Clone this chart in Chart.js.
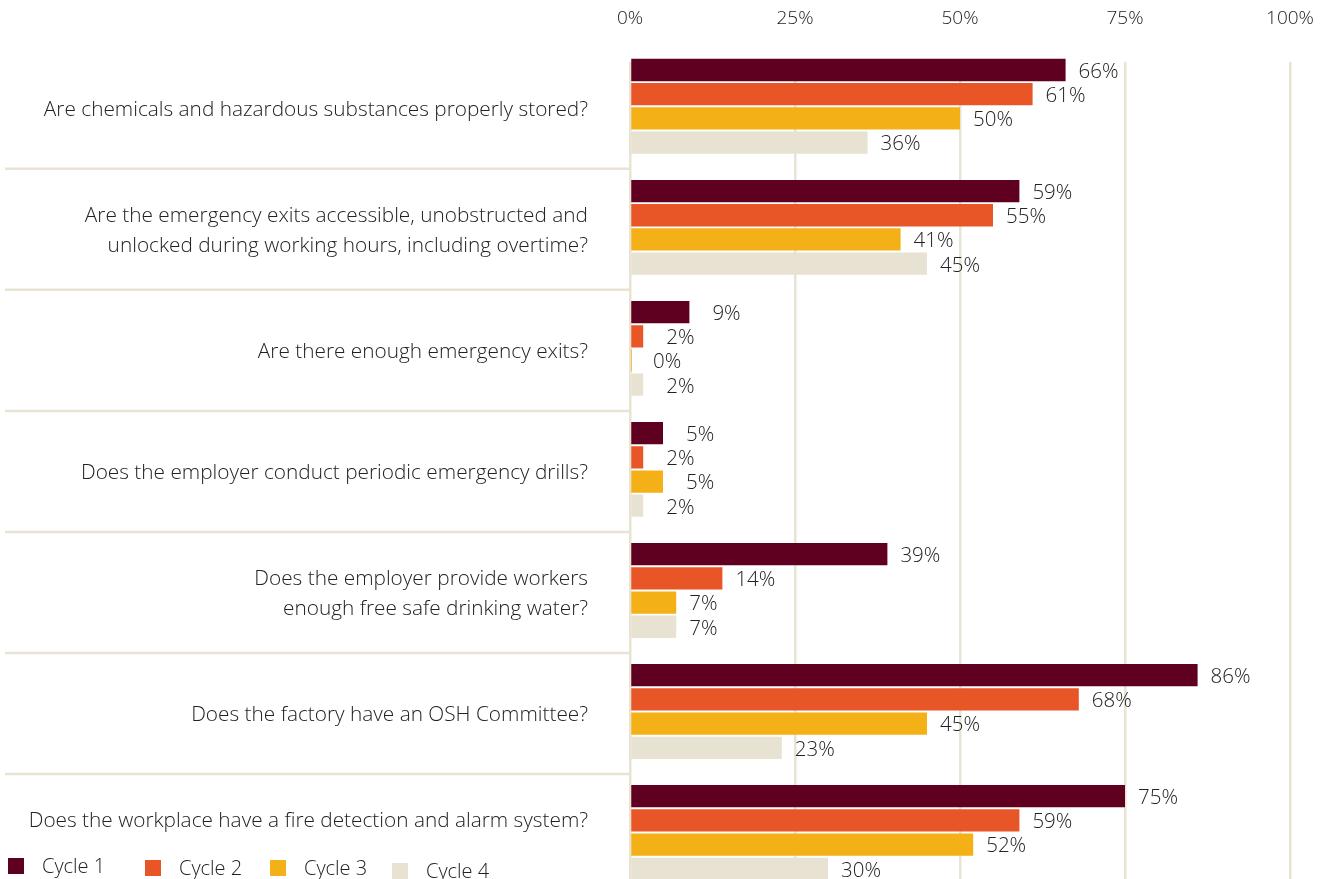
<!DOCTYPE html>
<html>
<head>
<meta charset="utf-8">
<script src="https://cdn.jsdelivr.net/npm/chart.js@4.4.1/dist/chart.umd.min.js"></script>
<style>
    html, body { margin: 0; padding: 0; background: #fff; overflow: hidden; }
    #wrap { position: relative; width: 1330px; height: 908px; }
    #legend { position: absolute; left: 8px; top: 852px; font-family: "Open Sans", sans-serif; font-weight: 300; font-size: 20px; color: #222; }
    #legend span.item { position: absolute; white-space: nowrap; }
    #legend i { display: inline-block; width: 16px; height: 16px; vertical-align: -1px; margin-right: 18px; }
</style>
</head>
<body>
<div id="wrap">
    <canvas id="chart" width="1330" height="908"></canvas>
    <div id="legend"></div>
</div>
<script>
const questions = [
    'Are chemicals and hazardous substances properly stored?',
    ['Are the emergency exits accessible, unobstructed and', 'unlocked during working hours, including overtime?'],
    'Are there enough emergency exits?',
    'Does the employer conduct periodic emergency drills?',
    ['Does the employer provide workers', 'enough free safe drinking water?'],
    'Does the factory have an OSH Committee?',
    // empty second line lifts the text clear of the legend
    ['Does the workplace have a fire detection and alarm system?', '']
];
const cycleNames = ['Cycle 1', 'Cycle 2', 'Cycle 3', 'Cycle 4'];
const cycle1 = [66, 59, 9, 5, 39, 86, 75];
const cycle2 = [61, 55, 2, 2, 14, 68, 59];
const cycle3 = [50, 41, 0, 5, 7, 45, 52];
const cycle4 = [36, 45, 2, 2, 7, 23, 30];
const xTicks = [0, 25, 50, 75, 100];

const colors = ['#5f0020', '#e85628', '#f3b117', '#e8e2d2'];
const beige = '#e9e3d3';
const textColor = '#222222';
const fontFamily = '"Open Sans", sans-serif';

// Lines between question rows, only in the label area
const separators = {
    id: 'separators',
    beforeDraw(chart) {
        const ctx = chart.ctx;
        const y = chart.scales.y;
        ctx.save();
        ctx.strokeStyle = beige;
        ctx.lineWidth = 2.5;
        for (let i = 0; i < questions.length - 1; i++) {
            const py = (y.getPixelForValue(i) + y.getPixelForValue(i + 1)) / 2 + 2;
            ctx.beginPath();
            ctx.moveTo(5, py);
            ctx.lineTo(chart.chartArea.left, py);
            ctx.stroke();
        }
        ctx.restore();
    }
};

// Grid lines start a little below the top of the plot
const gridTop = {
    id: 'gridTop',
    beforeDatasetsDraw(chart) {
        const a = chart.chartArea;
        chart.ctx.save();
        chart.ctx.fillStyle = '#ffffff';
        chart.ctx.fillRect(a.left - 3, a.top - 2, a.right - a.left + 6, 18);
        chart.ctx.restore();
    }
};

// Value labels after each bar
const valueLabels = {
    id: 'valueLabels',
    afterDatasetsDraw(chart) {
        const ctx = chart.ctx;
        const x = chart.scales.x;
        ctx.save();
        ctx.font = '300 20.5px ' + fontFamily;
        ctx.fillStyle = textColor;
        ctx.textBaseline = 'middle';
        chart.data.datasets.forEach((ds, di) => {
            chart.getDatasetMeta(di).data.forEach((bar, i) => {
                const v = ds.data[i];
                const gap = v < 7 || v === 9 ? 23 : 13;
                ctx.fillText(v + '%', x.getPixelForValue(v) + gap, bar.y + 2);
            });
        });
        ctx.restore();
    }
};

const series = [cycle1, cycle2, cycle3, cycle4];

new Chart(document.getElementById('chart'), {
    type: 'bar',
    data: {
        labels: questions,
        datasets: series.map((data, i) => ({
            label: cycleNames[i],
            data,
            backgroundColor: colors[i],
            categoryPercentage: 0.8,
            barPercentage: 0.92,
            minBarLength: 2
        }))
    },
    options: {
        indexAxis: 'y',
        responsive: false,
        animation: false,
        layout: { padding: { top: -9, right: 40, bottom: 0, left: 0 } },
        plugins: {
            legend: { display: false },
            tooltip: { enabled: false }
        },
        scales: {
            x: {
                position: 'top',
                min: 0,
                max: 100,
                afterBuildTicks: (axis) => { axis.ticks = xTicks.map(v => ({ value: v })); },
                ticks: {
                    callback: (v) => v + '%',
                    color: textColor,
                    font: { family: fontFamily, size: 19, weight: 300 },
                    padding: 16
                },
                grid: { color: beige, lineWidth: 2.5, drawTicks: false },
                border: { display: false }
            },
            y: {
                afterFit: (axis) => { axis.width = 630; },
                ticks: {
                    color: textColor,
                    font: { family: fontFamily, size: 20.8, weight: 300, lineHeight: 1.44 },
                    padding: 0,
                    labelOffset: 4
                },
                // invisible tick marks keep the labels clear of the bars
                grid: { drawOnChartArea: false, drawTicks: true, tickLength: 42, color: 'rgba(0,0,0,0)' },
                border: { display: false }
            }
        }
    },
    plugins: [separators, gridTop, valueLabels]
});

// Legend
const legend = document.getElementById('legend');
const legendX = [0, 137, 262, 384];
const legendY = [0, 2, 2, 5];
cycleNames.forEach((name, i) => {
    const item = document.createElement('span');
    item.className = 'item';
    item.style.left = legendX[i] + 'px';
    item.style.top = legendY[i] + 'px';
    item.innerHTML = '<i style="background:' + colors[i] + '"></i>' + name;
    legend.appendChild(item);
});
</script>
</body>
</html>
